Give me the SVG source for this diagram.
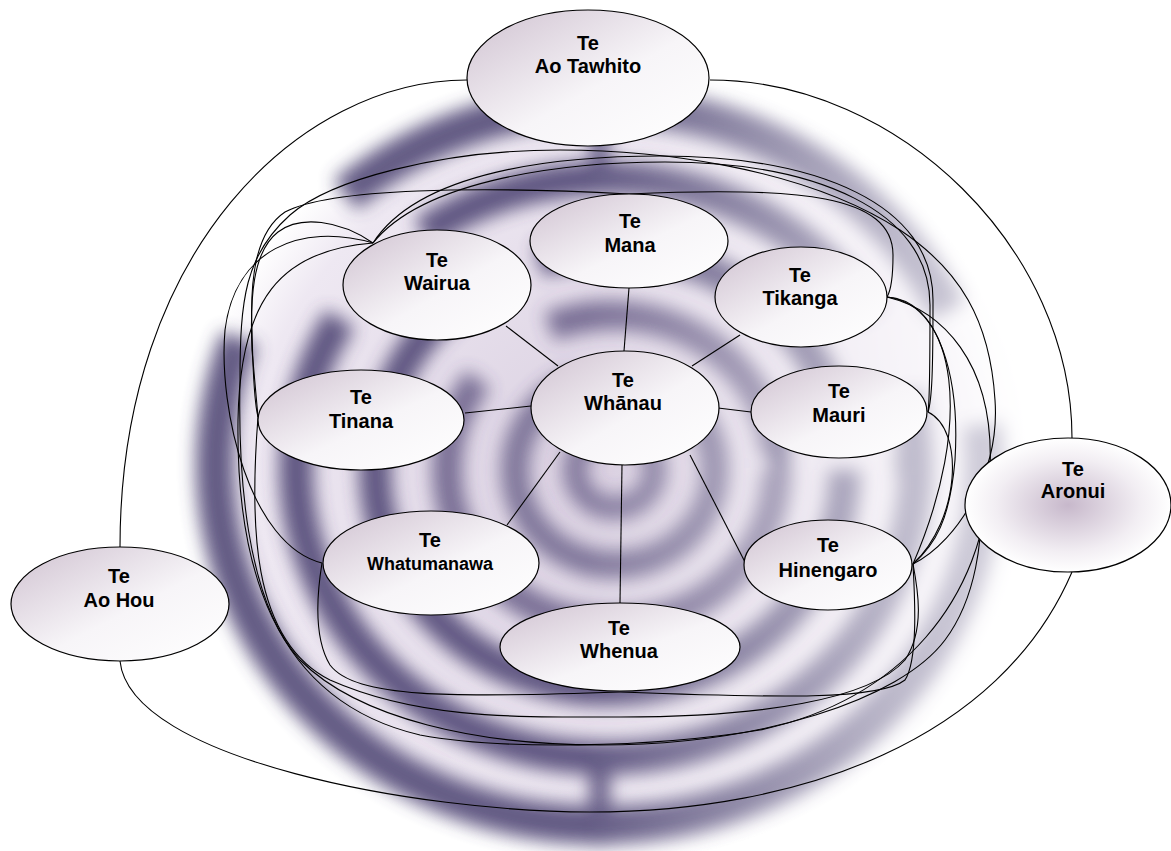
<svg xmlns="http://www.w3.org/2000/svg" width="1171" height="851" viewBox="0 0 1171 851">
<defs>
<style>
.n ellipse{stroke:#000;stroke-width:1.2;fill:url(#g)}
.n text{font-family:"Liberation Sans",Arial,sans-serif;font-weight:bold;font-size:20px;text-anchor:middle;fill:#000}
#conn path,#conn line{fill:none;stroke:#000;stroke-width:1.1}
.ring{fill:none;stroke:#4a4070}
</style>
<linearGradient id="g" x1="0" y1="0" x2="1" y2="1">
<stop offset="0" stop-color="#cfc1d0"/>
<stop offset="0.55" stop-color="#f7f5f8"/>
<stop offset="1" stop-color="#ffffff"/>
</linearGradient>
<radialGradient id="ga" cx="0.5" cy="0.5" r="0.5">
<stop offset="0" stop-color="#c7b8cb"/>
<stop offset="0.7" stop-color="#f2eef3"/>
<stop offset="1" stop-color="#ffffff"/>
</radialGradient>
<radialGradient id="bgd" cx="0.5" cy="0.5" r="0.5">
<stop offset="0" stop-color="#d9cfe0"/>
<stop offset="0.85" stop-color="#eee8f2"/>
<stop offset="1" stop-color="#ffffff"/>
</radialGradient>
<filter id="blur" x="-20%" y="-20%" width="140%" height="140%"><feGaussianBlur stdDeviation="9"/></filter>
<linearGradient id="fade" x1="0" y1="0" x2="1" y2="0">
<stop offset="0" stop-color="#fff"/>
<stop offset="0.5" stop-color="#fff"/>
<stop offset="0.78" stop-color="#666"/>
<stop offset="1" stop-color="#111"/>
</linearGradient>
<mask id="m" maskUnits="userSpaceOnUse" x="0" y="0" width="1171" height="851">
<rect x="0" y="0" width="1171" height="851" fill="url(#fade)"/>
</mask>
</defs>
<rect width="1171" height="851" fill="#fff"/>
<g id="background" mask="url(#m)">
<ellipse cx="610" cy="470" rx="420" ry="390" fill="url(#bgd)"/>
<g filter="url(#blur)" opacity="0.85">
<ellipse class="ring" cx="615" cy="470" rx="40" ry="38" stroke-width="24" opacity="0.7"/>
<ellipse class="ring" cx="615" cy="470" rx="100" ry="95" stroke-width="28" stroke-dasharray="420 80" opacity="0.75"/>
<ellipse class="ring" cx="612" cy="470" rx="165" ry="155" stroke-width="30" stroke-dasharray="600 90 300 60" opacity="0.8"/>
<ellipse class="ring" cx="610" cy="470" rx="235" ry="220" stroke-width="32" stroke-dasharray="900 100 400 70"/>
<ellipse class="ring" cx="606" cy="468" rx="310" ry="290" stroke-width="34" stroke-dasharray="1100 120 500 90"/>
<ellipse class="ring" cx="600" cy="465" rx="385" ry="360" stroke-width="38" stroke-dasharray="1300 180 700 120"/>
<line class="ring" x1="600" y1="770" x2="600" y2="845" stroke-width="20"/>
<line class="ring" x1="600" y1="120" x2="600" y2="190" stroke-width="18"/>
<line class="ring" x1="780" y1="440" x2="780" y2="470" stroke-width="18"/>
<line class="ring" x1="905" y1="450" x2="905" y2="475" stroke-width="18"/>
<line class="ring" x1="820" y1="165" x2="820" y2="185" stroke-width="18"/>
</g>
</g>
<g id="conn">
<line x1="506" y1="326" x2="558" y2="366"/>
<line x1="629" y1="288" x2="624" y2="351"/>
<line x1="740" y1="335" x2="692" y2="366"/>
<line x1="718" y1="408" x2="751" y2="412"/>
<line x1="465" y1="413" x2="531" y2="406"/>
<line x1="507" y1="525" x2="560" y2="452"/>
<line x1="622" y1="465" x2="620" y2="603"/>
<line x1="690" y1="455" x2="745" y2="562"/>
<path d="M467,80 C300,80 120,250 120,547"/>
<path d="M710,80 C900,80 1072,250 1072,438"/>
<path d="M120,661 C130,760 420,812 590,812 C800,812 1000,740 1072,572"/>
<path d="M629,194 C800,186 893,195 893,255 C893,280 890,292 887,297"/>
<path d="M629,194 C480,186 330,188 285,212 C255,232 250,280 252,330 C253,380 255,405 258,417"/>
<path d="M373,243 C420,170 560,156 660,156 C820,156 933,205 933,300 C933,370 932,400 928,412"/>
<path d="M373,243 C425,178 570,162 665,162 C815,162 930,210 930,305 C930,372 930,400 928,412"/>
<path d="M373,243 C340,220 300,215 278,232 C252,252 250,300 252,350 L258,417"/>
<path d="M373,243 C300,222 235,250 225,330 C218,410 250,545 322,563"/>
<path d="M322,563 C316,600 315,640 330,665 C355,698 450,698 620,692"/>
<path d="M620,692 C780,698 880,700 905,680 C918,660 915,600 913,564"/>
<path d="M258,417 C250,520 250,640 330,680 C420,720 520,717 620,717 C760,717 870,700 905,660 C925,630 918,590 913,564"/>
<path d="M373,243 C280,250 240,300 238,420 C236,560 270,700 420,735 C500,750 650,748 760,730 C900,700 985,600 990,470 C995,360 940,310 887,297"/>
<path d="M887,297 C955,305 975,420 913,564"/>
<path d="M887,297 C940,300 960,380 955,460 C950,520 935,545 913,564"/>
<path d="M928,412 C965,430 960,520 913,564"/>
<path d="M913,564 C960,540 1000,470 995,400 C990,320 960,270 900,230 C800,165 650,150 560,150 C440,150 330,180 290,215 C245,255 240,300 240,380"/>
<path d="M240,380 C238,470 245,600 300,660 C360,720 480,745 600,745 C760,745 900,700 945,640 C975,600 985,540 980,480"/>
</g>
<g id="ao-tawhito" class="n"><ellipse cx="588" cy="78" rx="121" ry="68"/><text x="588" y="50">Te</text><text x="588" y="73">Ao Tawhito</text></g>
<g id="mana" class="n"><ellipse cx="629" cy="241" rx="99" ry="47"/><text x="630" y="228">Te</text><text x="630" y="252">Mana</text></g>
<g id="wairua" class="n"><ellipse cx="437" cy="285" rx="94" ry="55"/><text x="437" y="267">Te</text><text x="437" y="290">Wairua</text></g>
<g id="tikanga" class="n"><ellipse cx="801" cy="297" rx="86" ry="50"/><text x="800" y="282">Te</text><text x="800" y="305">Tikanga</text></g>
<g id="mauri" class="n"><ellipse cx="839" cy="412" rx="88" ry="46"/><text x="839" y="398">Te</text><text x="839" y="422">Mauri</text></g>
<g id="whanau" class="n"><ellipse cx="625" cy="408" rx="94" ry="57"/><text x="623" y="387">Te</text><text x="623" y="410">Whānau</text></g>
<g id="tinana" class="n"><ellipse cx="361" cy="420" rx="103" ry="50"/><text x="361" y="404">Te</text><text x="361" y="428">Tinana</text></g>
<g id="whatumanawa" class="n"><ellipse cx="431" cy="563" rx="108" ry="52"/><text x="430" y="547">Te</text><text x="430" y="570" style="font-size:18px">Whatumanawa</text></g>
<g id="whenua" class="n"><ellipse cx="620" cy="647" rx="120" ry="44"/><text x="619" y="635">Te</text><text x="619" y="658">Whenua</text></g>
<g id="hinengaro" class="n"><ellipse cx="828" cy="565" rx="84" ry="45"/><text x="828" y="552">Te</text><text x="828" y="577">Hinengaro</text></g>
<g id="ao-hou" class="n"><ellipse cx="120" cy="604" rx="109" ry="57"/><text x="119" y="583">Te</text><text x="119" y="607">Ao Hou</text></g>
<g id="aronui" class="n"><ellipse cx="1068" cy="505" rx="103" ry="67" style="fill:url(#ga)"/><text x="1073" y="476">Te</text><text x="1073" y="498">Aronui</text></g>
</svg>
